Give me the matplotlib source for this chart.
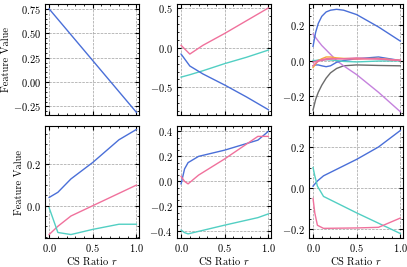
import matplotlib
matplotlib.use("Agg")
import matplotlib.pyplot as plt

plt.rcParams.update({
    "font.family": "serif",
    "font.serif": ["cmr10"],
    "mathtext.fontset": "cm",
    "axes.formatter.use_mathtext": True,
    "font.size": 7.5,
    "xtick.direction": "in",
    "ytick.direction": "in",
    "xtick.top": True,
    "ytick.right": True,
    "xtick.minor.visible": True,
    "ytick.minor.visible": True,
    "xtick.major.size": 3,
    "ytick.major.size": 3,
    "xtick.minor.size": 1.5,
    "ytick.minor.size": 1.5,
    "xtick.major.pad": 3,
    "ytick.major.pad": 3,
    "axes.linewidth": 0.8,
    "axes.labelpad": 1.0,
})

BLUE = "#4a6fd8"
PINK = "#f0719c"
CYAN = "#52cfc3"
PURPLE = "#c582dd"
GRAY = "#6b6b6b"
ORANGE = "#f5a93a"

# top-left
x_a = [0.0, 0.25, 0.5, 0.75, 1.0]
a_blue = [0.75, 0.485, 0.22, -0.045, -0.31]

# top-middle
x_b = [0.0, 0.1, 0.25, 0.5, 0.75, 1.0]
b_pink = [0.03, -0.08, 0.03, 0.18, 0.34, 0.5]
b_cyan = [-0.37, -0.34, -0.29, -0.2, -0.12, -0.03]
b_blue = [-0.08, -0.23, -0.33, -0.47, -0.62, -0.78]

# top-right
x_c = [0.0, 0.03, 0.06, 0.1, 0.15, 0.2, 0.27, 0.35, 0.5, 0.75, 1.0]
c_blue = [0.08, 0.16, 0.21, 0.25, 0.275, 0.285, 0.29, 0.285, 0.26, 0.19, 0.11]
c_purple = [0.15, 0.13, 0.11, 0.085, 0.06, 0.035, 0.0, -0.03, -0.08, -0.18, -0.29]
c_gray = [-0.28, -0.22, -0.18, -0.14, -0.1, -0.07, -0.045, -0.03, -0.025, -0.028, -0.03]
c_blue2 = [-0.03, -0.025, -0.025, -0.03, -0.035, -0.03, -0.01, 0.0, 0.01, 0.02, 0.0]
c_orange = [-0.04, -0.02, 0.0, 0.01, 0.02, 0.02, 0.015, 0.012, 0.01, 0.012, 0.0]
c_cyan = [0.0, 0.0, 0.003, 0.005, 0.005, 0.003, 0.0, -0.005, -0.008, -0.003, -0.002]
c_pink = [-0.03, -0.015, -0.005, 0.005, 0.01, 0.012, 0.01, 0.01, 0.008, 0.01, 0.002]
c_pink2 = [-0.01, -0.005, 0.0, 0.0, 0.005, 0.008, 0.01, 0.01, 0.015, 0.008, 0.0]

# bottom-left
x_d = [0.0, 0.1, 0.25, 0.5, 0.8, 1.0]
d_blue = [0.04, 0.065, 0.13, 0.21, 0.32, 0.37]
d_pink = [-0.14, -0.1, -0.05, 0.0, 0.06, 0.1]
d_cyan = [-0.01, -0.13, -0.14, -0.115, -0.09, -0.09]

# bottom-middle
x_e = [0.0, 0.04, 0.08, 0.2, 0.5, 0.88, 1.0]
e_blue = [-0.02, 0.1, 0.15, 0.2, 0.25, 0.33, 0.4]
e_pink = [0.04, 0.0, -0.02, 0.05, 0.18, 0.36, 0.36]
e_cyan = [-0.39, -0.41, -0.42, -0.4, -0.35, -0.29, -0.26]

# bottom-right
x_f = [0.0, 0.02, 0.05, 0.12, 0.5, 0.75, 1.0]
f_blue = [0.01, 0.02, 0.035, 0.06, 0.14, 0.2, 0.28]
f_cyan = [0.1, 0.06, 0.01, -0.04, -0.12, -0.17, -0.22]
f_pink = [-0.05, -0.12, -0.18, -0.195, -0.193, -0.19, -0.145]

fig, axes = plt.subplots(2, 3, figsize=(4.07, 2.67), dpi=100, sharex=True)
fig.subplots_adjust(left=0.11, right=0.99, top=0.985, bottom=0.11, wspace=0.4, hspace=0.1)

lw = 1.0
ax = axes[0, 0]
ax.plot(x_a, a_blue, color=BLUE, lw=lw)
ax.set_ylim(-0.34, 0.80)

ax = axes[0, 1]
ax.plot(x_b, b_pink, color=PINK, lw=lw)
ax.plot(x_b, b_cyan, color=CYAN, lw=lw)
ax.plot(x_b, b_blue, color=BLUE, lw=lw)
ax.set_ylim(-0.85, 0.55)

ax = axes[0, 2]
for ys, c in [(c_gray, GRAY), (c_purple, PURPLE), (c_blue2, BLUE), (c_cyan, CYAN),
              (c_orange, ORANGE), (c_pink2, "#e06fa8"), (c_pink, PINK), (c_blue, BLUE)]:
    ax.plot(x_c, ys, color=c, lw=lw)
ax.set_ylim(-0.31, 0.32)

ax = axes[1, 0]
ax.plot(x_d, d_blue, color=BLUE, lw=lw)
ax.plot(x_d, d_pink, color=PINK, lw=lw)
ax.plot(x_d, d_cyan, color=CYAN, lw=lw)
ax.set_ylim(-0.155, 0.385)

ax = axes[1, 1]
ax.plot(x_e, e_blue, color=BLUE, lw=lw)
ax.plot(x_e, e_pink, color=PINK, lw=lw)
ax.plot(x_e, e_cyan, color=CYAN, lw=lw)
ax.set_ylim(-0.45, 0.44)

ax = axes[1, 2]
ax.plot(x_f, f_blue, color=BLUE, lw=lw)
ax.plot(x_f, f_cyan, color=CYAN, lw=lw)
ax.plot(x_f, f_pink, color=PINK, lw=lw)
ax.set_ylim(-0.24, 0.30)

for ax in axes.flat:
    ax.set_xlim(-0.05, 1.03)
    ax.set_xticks([0.0, 0.5, 1.0])
    ax.grid(True, which="major", ls="--", color="#a0a0a0", lw=0.5)

axes[0, 0].set_yticks([-0.25, 0.0, 0.25, 0.5, 0.75])
axes[0, 1].set_yticks([-0.5, 0.0, 0.5])
axes[0, 2].set_yticks([-0.2, 0.0, 0.2])
axes[1, 0].set_yticks([0.0, 0.2])
axes[1, 1].set_yticks([-0.4, -0.2, 0.0, 0.2, 0.4])
axes[1, 2].set_yticks([-0.2, 0.0, 0.2])

axes[0, 0].set_ylabel("Feature Value")
axes[1, 0].set_ylabel("Feature Value")
for ax in axes[1]:
    ax.set_xlabel("CS Ratio $r$")

fig.savefig("out.png", dpi=100)
